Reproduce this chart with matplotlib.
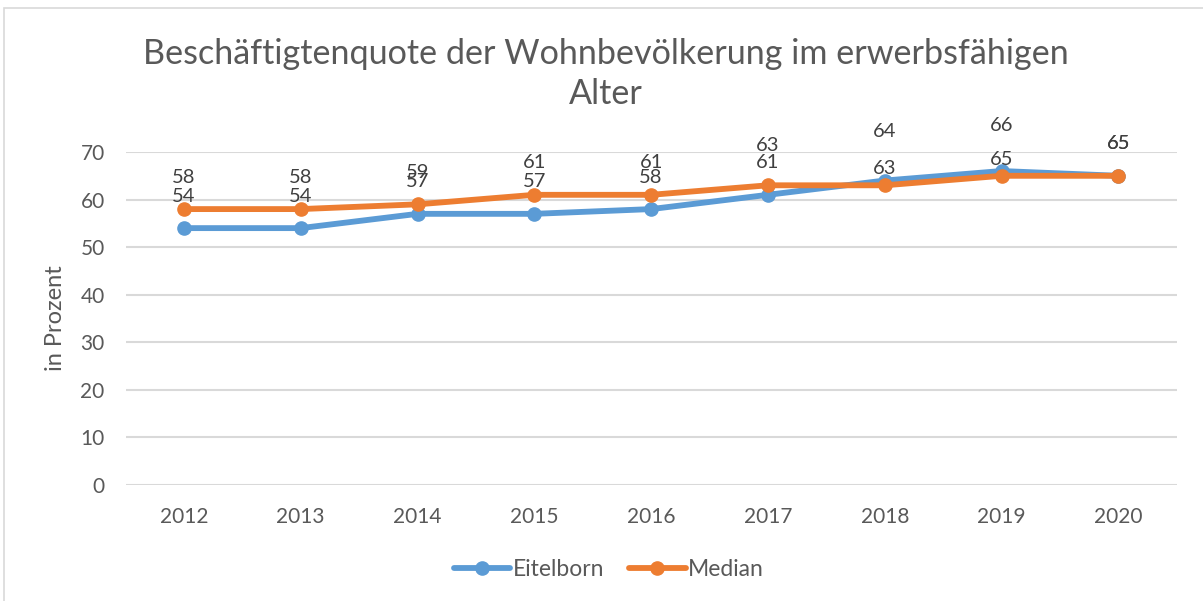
import matplotlib
matplotlib.use('Agg')
import matplotlib.pyplot as plt
from matplotlib.patches import Rectangle

years = ['2012', '2013', '2014', '2015', '2016', '2017', '2018', '2019', '2020']
eitelborn = [54, 54, 57, 57, 58, 61, 64, 66, 65]
median = [58, 58, 59, 61, 61, 63, 63, 65, 65]

blue = '#5B9BD5'
orange = '#ED7D31'
grey_text = '#595959'
grid_col = '#D9D9D9'

plt.rcParams['font.family'] = ['Lato', 'DejaVu Sans']

fig = plt.figure(figsize=(12.03, 6.01), dpi=100)
W, H = 1203, 601

# chart frame (only top and left edge are visible)
fig.patches.append(Rectangle((4 / W, -0.1), 1.2, 1 - 8 / H + 0.1,
                             transform=fig.transFigure, fill=False,
                             edgecolor=grid_col, linewidth=1.2))

ax = fig.add_axes([125.5 / W, 1 - 485 / H, (1176.7 - 125.5) / W, (485 - 152) / H])
x = list(range(len(years)))

ax.plot(x, eitelborn, color=blue, linewidth=4.2, marker='o', markersize=9.5,
        solid_capstyle='round', label='Eitelborn', zorder=3)
ax.plot(x, median, color=orange, linewidth=4.2, marker='o', markersize=9.5,
        solid_capstyle='round', label='Median', zorder=4)

# value labels above the points, a few shifted to avoid overlaps
default_off = 23
shift = {('e', 6): 35, ('e', 7): 32.5, ('m', 6): 12, ('m', 7): 11.5, ('m', 5): 29}
for key, vals in (('e', eitelborn), ('m', median)):
    for i, v in enumerate(vals):
        ax.annotate(str(v), (i, v), xytext=(0, shift.get((key, i), default_off)),
                    textcoords='offset points', ha='center', va='center',
                    fontsize=14.5, color='#404040', zorder=5)

ax.set_xlim(-0.5, 8.5)
ax.set_ylim(0, 70)
ax.set_yticks(range(0, 71, 10))
ax.set_xticks(x)
ax.set_xticklabels(years)
ax.grid(axis='y', color=grid_col, linewidth=1.5)
ax.set_axisbelow(True)
for s in ax.spines.values():
    s.set_visible(False)
ax.tick_params(axis='both', length=0, labelsize=15, labelcolor=grey_text)
ax.tick_params(axis='y', pad=15)
ax.tick_params(axis='x', pad=16)

fig.text(55 / W, 1 - 318 / H, 'in Prozent', rotation=90, ha='center', va='center',
         fontsize=17, color=grey_text)

fig.text(606 / W, 1 - 74 / H, 'Beschäftigtenquote der Wohnbevölkerung im erwerbsfähigen\nAlter',
         ha='center', va='center', fontsize=24.6, color=grey_text, linespacing=1.3)

leg = fig.legend(loc='center', bbox_to_anchor=(609 / W, 1 - 570 / H), ncol=2,
                 frameon=False, fontsize=16.5, handlelength=2.45, handletextpad=0.1,
                 columnspacing=1.1, labelcolor=grey_text)

fig.savefig('out.png', dpi=100, facecolor='white')
